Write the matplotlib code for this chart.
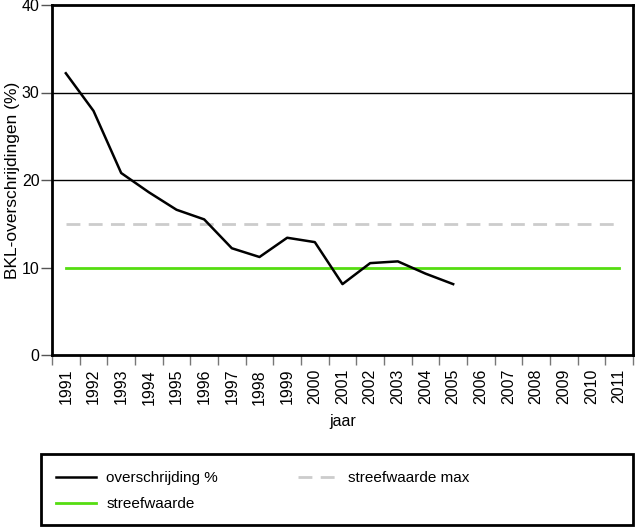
import matplotlib
matplotlib.use("Agg")
import matplotlib.pyplot as plt
from matplotlib.patches import Rectangle
import numpy as np

plt.rcParams['font.family'] = ['Liberation Sans', 'DejaVu Sans']

years = [str(y) for y in range(1991, 2012)]
overschrijding = [32.2, 27.9, 20.8, 18.6, 16.6, 15.5, 12.2, 11.2, 13.4, 12.9,
                  8.1, 10.5, 10.7, 9.3, 8.1]
streefwaarde = [10] * len(years)
streefwaarde_max = [15] * len(years)

fig = plt.figure(figsize=(6.35, 5.27), dpi=100)
ax = fig.add_axes([52/635, (527-355)/527, 581/635, 350/527])

x = np.arange(len(years))
ax.axhline(20, color='black', lw=1, zorder=1)
ax.axhline(30, color='black', lw=1, zorder=1)
l3, = ax.plot(x, streefwaarde_max, color='#cccccc', lw=2, dashes=(5, 3), zorder=2,
              label='streefwaarde max')
l2, = ax.plot(x, streefwaarde, color='#55dd11', lw=2, zorder=3, label='streefwaarde')
l1, = ax.plot(x[:len(overschrijding)], overschrijding, color='black', lw=1.8, zorder=4,
              label='overschrijding %')

ax.set_xlim(-0.5, len(years) - 0.5)
ax.set_ylim(0, 40)
ax.set_yticks([0, 10, 20, 30, 40])
ax.set_yticklabels(['0', '10', '20', '30', '40'], fontsize=11.5)
ax.set_xticks(np.arange(len(years) + 1) - 0.5)
ax.set_xticklabels([])
ax.set_xticks(x, minor=True)
ax.set_xticklabels(years, minor=True, rotation=90, fontsize=11.5)
ax.tick_params(axis='x', which='major', length=7.5, width=1, color='#777777', direction='out')
ax.tick_params(axis='x', which='minor', length=0, pad=10)
ax.tick_params(axis='y', length=8, width=1, color='#555555', pad=1)
for s in ax.spines.values():
    s.set_linewidth(2)
ax.set_ylabel('BKL-overschrijdingen (%)', fontsize=12.5, labelpad=1)
ax.set_xlabel('jaar', fontsize=11.5, labelpad=7)

leg = fig.legend(handles=[l1, l2, l3], loc='upper left', ncol=2,
                 bbox_to_anchor=(56/635, 1 - 471/527),
                 fontsize=11, frameon=False, borderpad=0, borderaxespad=0,
                 handlelength=2.6, labelspacing=0.78, handletextpad=0.7,
                 columnspacing=5.2)
fig.patches.append(Rectangle((41/635, 2/527), 592/635, 71/527, transform=fig.transFigure,
                             fill=False, edgecolor='black', linewidth=2))

fig.savefig('out.png', dpi=100)
